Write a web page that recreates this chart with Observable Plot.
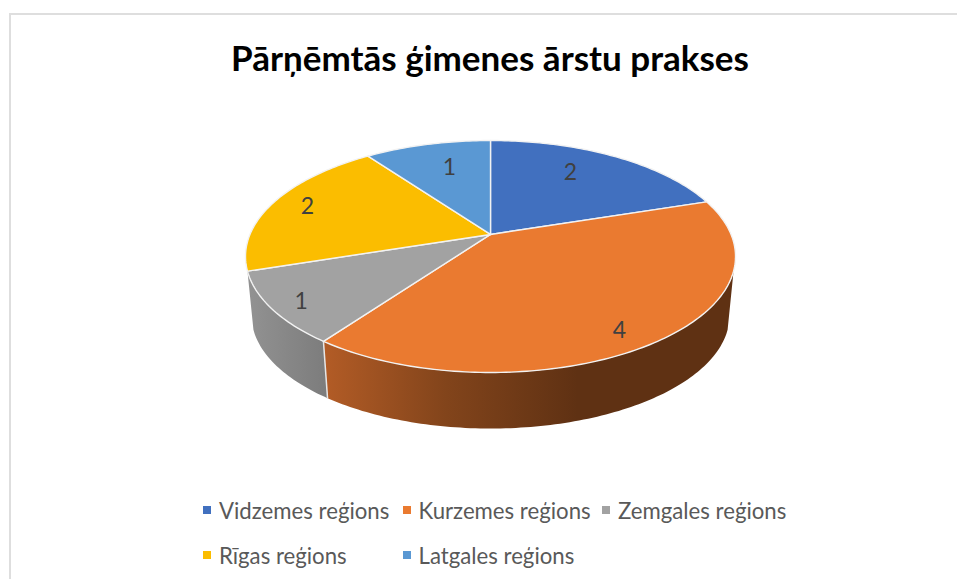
<!DOCTYPE html>
<html>
<head>
<meta charset="utf-8">
<script src="https://cdn.jsdelivr.net/npm/d3@7"></script>
<script src="https://cdn.jsdelivr.net/npm/@observablehq/plot@0.6"></script>
<style>
  html, body { margin: 0; padding: 0; background: #fff; overflow: hidden; width: 957px; height: 579px; }
  #frame { position: absolute; left: 9px; top: 13px; width: 1000px; height: 640px; border: 2px solid #dedede; pointer-events: none; }
  #title { position: absolute; left: 0; top: 0; width: 980px; height: 90px; text-align: center;
           font: 700 35px/115px Lato, sans-serif; color: #000; white-space: nowrap; }
  #chart { position: absolute; left: 0; top: 90px; }
  #chart svg { display: block; }
  #legend { position: absolute; left: 203px; top: 487.5px; display: grid; grid-template-columns: 199.5px 199.5px 199.5px; grid-auto-rows: 45px;
            font: 400 22.2px/45px Lato, sans-serif; color: #595959; }
  .item { display: flex; align-items: center; white-space: nowrap; }
  .sw { width: 8px; height: 8px; margin-right: 8px; flex: none; }
</style>
</head>
<body>
<div id="title"></div>
<div id="chart"></div>
<div id="legend"></div>
<div id="frame"></div>
<script>
const titleText = "Pārņēmtās ģimenes ārstu prakses";
const regions = ["Vidzemes reģions", "Kurzemes reģions", "Zemgales reģions", "Rīgas reģions", "Latgales reģions"];
const values = [2, 4, 1, 2, 1];
const topColors = ["#4170bf", "#ea7a30", "#a2a2a2", "#fbbd00", "#5a98d3"];
const legendOrder = [0, 1, 2, 3, 4];

// Layout of the tilted pie: label placement along each slice, and perspective
const labelRadius = [0.72, 0.87, 0.89, 0.84, 0.70];
const labelTurn = [-5, 4, -1.5, 0, 2];
const tilt = -0.19;
const bottomScale = { u: 0.9755, v: 0.974, drop: 0.509 };
const wallRange = [108, 252];

// Perspective projection of a unit disk onto the ellipse (angle clockwise from top)
function project(deg, r = 1, bottom = false) {
  const a = deg * Math.PI / 180;
  const X = r * Math.sin(a), Y = -r * Math.cos(a);
  const d = 1 + tilt * Y;
  const u = X * Math.sqrt(1 - tilt * tilt) / d;
  const v = (Y + tilt) / d;
  return bottom ? { x: u * bottomScale.u, y: v * bottomScale.v + bottomScale.drop } : { x: u, y: v };
}

const total = d3.sum(values);
let running = 0;
const slices = regions.map((region, i) => {
  const start = running / total * 360;
  running += values[i];
  return { region, value: values[i], start, end: running / total * 360, i };
});

const arc = (a, b) => d3.range(0, 1.0001, 1 / Math.max(2, Math.ceil(Math.abs(b - a)))).map(t => a + (b - a) * t);

const topPoints = slices.flatMap(s => [
  { region: s.region, ...project(0, 0) },
  ...arc(s.start, s.end).map(a => ({ region: s.region, ...project(a) })),
  { region: s.region, ...project(0, 0) }
]);

function wall(s) {
  const a = Math.max(s.start, wallRange[0]), b = Math.min(s.end, wallRange[1]);
  if (b <= a) return [];
  return [
    ...arc(a, b).map(t => ({ region: s.region, ...project(t) })),
    ...arc(b, a).map(t => ({ region: s.region, ...project(t, 1, true) }))
  ];
}

const labels = slices.map((s, i) => {
  const p = project((s.start + s.end) / 2 + labelTurn[i], labelRadius[i]);
  return { ...p, text: String(s.value) };
});

function gradient(id, stops) {
  const g = d3.create("svg:linearGradient").attr("id", id).attr("x1", 0).attr("x2", 1).attr("y1", 0).attr("y2", 0);
  stops.forEach(([o, c]) => g.append("stop").attr("offset", o).attr("stop-color", c));
  return g;
}
const defsMark = () => {
  const defs = d3.create("svg:defs");
  defs.append(() => gradient("wallOrange", [[0, "#b35c26"], [0.3, "#82441b"], [0.62, "#5f3113"], [1, "#5f3113"]]).node());
  defs.append(() => gradient("wallGray", [[0, "#929292"], [1, "#7c7c7c"]]).node());
  return defs.node();
};

const wallStroke = { stroke: "#ffffff", strokeWidth: 0, z: "region" };

const plot = Plot.plot({
  width: 957,
  height: 390,
  margin: 0,
  x: { domain: [-2, 1.906], range: [0, 957], axis: null },
  y: { domain: [-1.431, 1.931], range: [0, 390], axis: null },
  color: { domain: regions, range: topColors },
  marks: [
    defsMark,
    Plot.line(wall(slices[1]), { x: "x", y: "y", fill: "url(#wallOrange)", ...wallStroke }),
    Plot.line(wall(slices[2]), { x: "x", y: "y", fill: "url(#wallGray)", ...wallStroke }),
    Plot.line(
      [project(slices[2].start, 1), project(slices[2].start, 1, true)],
      { x: "x", y: "y", stroke: "#e6e6e6", strokeWidth: 1.5 }
    ),
    Plot.line(topPoints, { x: "x", y: "y", z: "region", fill: "region", stroke: "#f2f2f2", strokeWidth: 1.4, strokeLinejoin: "round" }),
    Plot.text(labels, { x: "x", y: "y", text: "text", fontFamily: "Lato, sans-serif", fontSize: 23, fill: "#404040" })
  ]
});

document.getElementById("chart").append(plot);
document.getElementById("title").textContent = titleText;
const legend = d3.select("#legend");
legendOrder.forEach(i => {
  const item = legend.append("div").attr("class", "item");
  item.append("span").attr("class", "sw").style("background", topColors[i]);
  item.append("span").text(regions[i]);
});
</script>
</body>
</html>
